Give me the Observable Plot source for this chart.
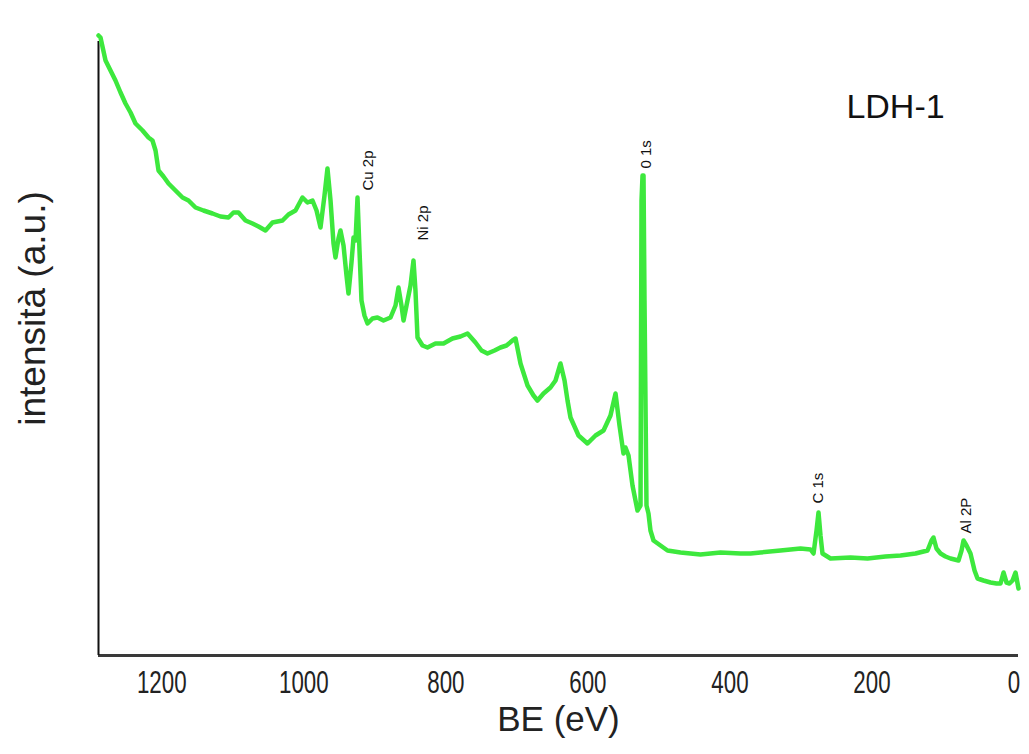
<!DOCTYPE html>
<html><head><meta charset="utf-8">
<script src="https://cdn.jsdelivr.net/npm/d3@7"></script>
<script src="https://cdn.jsdelivr.net/npm/@observablehq/plot@0.6"></script>
<style>body{margin:0;background:#fff}</style>
</head><body><div id="chart"></div>
<script>
// Binding energy (eV) of each sampled point
const bindingEnergy = [
1289.1,1286.3,1279.2,1272.2,1265.2,1258.1,1251.1,1244.0,1237.0,1227.1,1218.7,1213.1,1208.8,1204.6,1197.6,1190.5,1180.7,1170.8,1162.4,1152.5,
1141.3,1128.6,1117.3,1106.1,1099.0,1092.0,1082.1,1072.3,1063.8,1054.0,1044.1,1030.0,1021.6,1011.7,1001.9,994.8,987.8,982.1,976.5,970.9,
966.7,962.4,958.2,955.4,951.2,948.4,944.1,939.9,937.1,932.9,930.0,927.2,924.4,921.6,918.8,914.6,910.3,903.3,896.3,887.8,
877.9,870.9,866.7,862.5,859.6,854.0,849.8,845.6,842.8,839.9,832.9,825.9,814.6,803.3,790.7,779.4,769.5,758.3,749.8,741.4,
731.5,723.1,714.6,706.2,701.9,694.9,685.0,676.6,671.0,662.5,652.7,645.6,638.6,632.9,628.7,624.5,613.2,600.6,589.3,578.0,
568.2,561.1,555.5,549.9,547.1,542.8,537.2,530.2,525.9,524.5,523.1,521.7,520.3,517.5,514.7,511.9,507.6,497.8,487.9,469.6,
441.5,413.3,385.1,371.0,357.0,328.8,300.6,286.6,282.3,278.1,275.3,272.5,269.7,258.4,230.2,206.3,181.0,159.8,138.7,121.8,
116.2,113.4,109.2,103.5,96.5,89.4,78.2,73.9,71.1,66.9,61.3,55.6,51.4,43.0,33.1,24.7,19.0,14.8,10.6,6.4,
2.1,-2.1,-6.3
];
// Intensity (arbitrary units) at each point
const intensity = [
620,618,595,585,575,563,552,543,532,525,518,515,505,485,479,472,465,458,455,448,
445,442,439,438,443,443,435,432,429,425,433,435,441,445,458,453,455,445,428,460,
487,455,412,398,417,425,410,380,362,393,418,415,458,405,355,340,332,337,338,335,
338,350,368,350,335,355,370,395,365,318,310,308,312,312,317,319,322,313,305,302,
305,308,310,315,317,292,270,260,255,262,268,275,292,275,255,238,220,212,220,225,
240,262,230,202,208,200,170,145,150,455,480,480,355,150,142,125,115,110,105,103,
101,103,102,102,103,105,107,106,102,125,143,120,102,97,98,97,99,100,102,105,
115,118,107,102,99,97,95,105,115,110,102,85,77,75,73,72,72,83,73,72,
75,83,67
];
// Peak annotations
const peakNames = ["Cu 2p", "Ni 2p", "0 1s", "C 1s", "Al 2P"];
const peakBE = [908.9, 831.5, 518.5, 275.3, 66.9];
const peakLabelY = [465, 415, 487, 152, 122];
const xTicks = [1200, 1000, 800, 600, 400, 200, 0];

const spectrum = bindingEnergy.map((be, i) => ({be, intensity: intensity[i]}));
const peaks = peakNames.map((name, i) => ({name, be: peakBE[i], y: peakLabelY[i]}));

const font = "'Liberation Sans', Arial, Helvetica, sans-serif";

const chart = Plot.plot({
  width: 1029,
  height: 754,
  marginLeft: 98,
  marginRight: 11,
  marginTop: 35,
  marginBottom: 99,
  x: {domain: [1289.1, -6.3], axis: null},
  y: {domain: [0, 620], axis: null},
  style: {fontFamily: font, background: "#fff", color: "#111"},
  marks: [
    Plot.ruleY([0], {stroke: "#3a3a3a", strokeWidth: 3}),
    Plot.ruleX([1289.1], {y1: 0, y2: 614, stroke: "#111", strokeWidth: 2}),
    Plot.line(spectrum, {x: "be", y: "intensity", stroke: "#3de83d", strokeWidth: 4.5, strokeLinejoin: "round"}),
    Plot.axisX({ticks: xTicks, tickSize: 0, tickPadding: 15, fontSize: 31, tickFormat: d => String(d), label: null, fill: "#222"}),
    Plot.text(peaks, {x: "be", y: "y", text: "name", rotate: -90, textAnchor: "start", lineAnchor: "middle", fontSize: 15, fill: "#111"}),
    Plot.text(["LDH-1"], {frameAnchor: "top-right", textAnchor: "middle", lineAnchor: "middle", dx: -123, dy: 72, fontSize: 34, fill: "#111"}),
    Plot.text(["intensità (a.u.)"], {frameAnchor: "left", textAnchor: "middle", lineAnchor: "middle", dx: -65, dy: -37, rotate: -90, fontSize: 37, fill: "#222"}),
    Plot.text(["BE (eV)"], {frameAnchor: "bottom", textAnchor: "middle", lineAnchor: "middle", dy: 64, fontSize: 35, fill: "#222"})
  ]
});
// tick labels in the reference are tall and condensed
d3.select(chart).selectAll('g[aria-label="x-axis tick label"] text').each(function() {
  const t = this.getAttribute("transform") || "";
  this.setAttribute("transform", t + " scale(0.72,1)");
});
document.getElementById("chart").appendChild(chart);
</script>
</body></html>
